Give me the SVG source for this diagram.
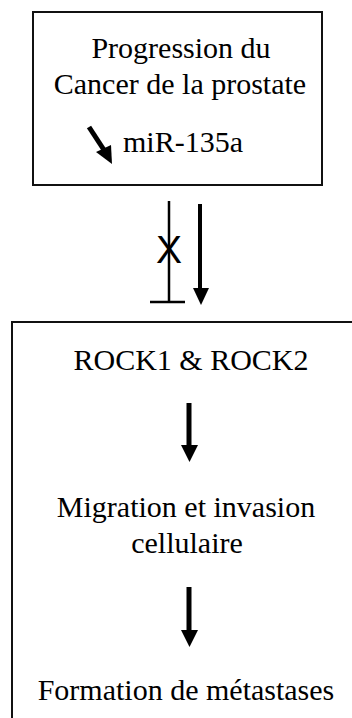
<svg xmlns="http://www.w3.org/2000/svg" width="352" height="718" viewBox="0 0 352 718">
<style>
.box{fill:#fff;stroke:#111;stroke-width:2}
.t{font-family:Liberation Serif, DejaVu Serif, serif;font-size:30px;fill:#000;text-anchor:middle}
.ln{stroke:#000;fill:none}
</style>
<rect width="352" height="718" fill="#fff"/>
<g id="node-top">
<rect class="box" x="33" y="12" width="289" height="173"/>
<text class="t" x="181" y="58">Progression du</text>
<text class="t" x="180" y="94">Cancer de la prostate</text>
<path d="M89,127 L104,150" stroke="#000" stroke-width="5"/>
<path d="M96,152 L112,164 L111,145 Z" fill="#000"/>
<text class="t" x="123" y="152" style="text-anchor:start">miR-135a</text>
</g>
<g id="node-bottom">
<rect class="box" x="12" y="322" width="350" height="410"/>
<text class="t" x="191" y="370">ROCK1 &amp;  ROCK2</text>
<text class="t" x="186" y="517">Migration et invasion</text>
<text class="t" x="187" y="553">cellulaire</text>
<text class="t" x="186" y="700">Formation de métastases</text>
</g>
<g id="connectors">
<path class="ln" d="M169,201 L169,302" stroke-width="2.5"/>
<path class="ln" d="M150,302 L185,302" stroke-width="2.5"/>
<text x="169" y="263" font-family="Liberation Sans, Arial, sans-serif" font-size="39" text-anchor="middle" fill="#000">X</text>
<path d="M200,204 L200,290" stroke="#000" stroke-width="4"/>
<path d="M193,288 L209,288 L201,305 Z" fill="#000"/>
<path d="M189,403 L189,447" stroke="#000" stroke-width="5"/>
<path d="M181,445 L198,445 L189.5,462 Z" fill="#000"/>
<path d="M189,587 L189,632" stroke="#000" stroke-width="5"/>
<path d="M181,630 L198,630 L189.5,647 Z" fill="#000"/>
</g>
</svg>
